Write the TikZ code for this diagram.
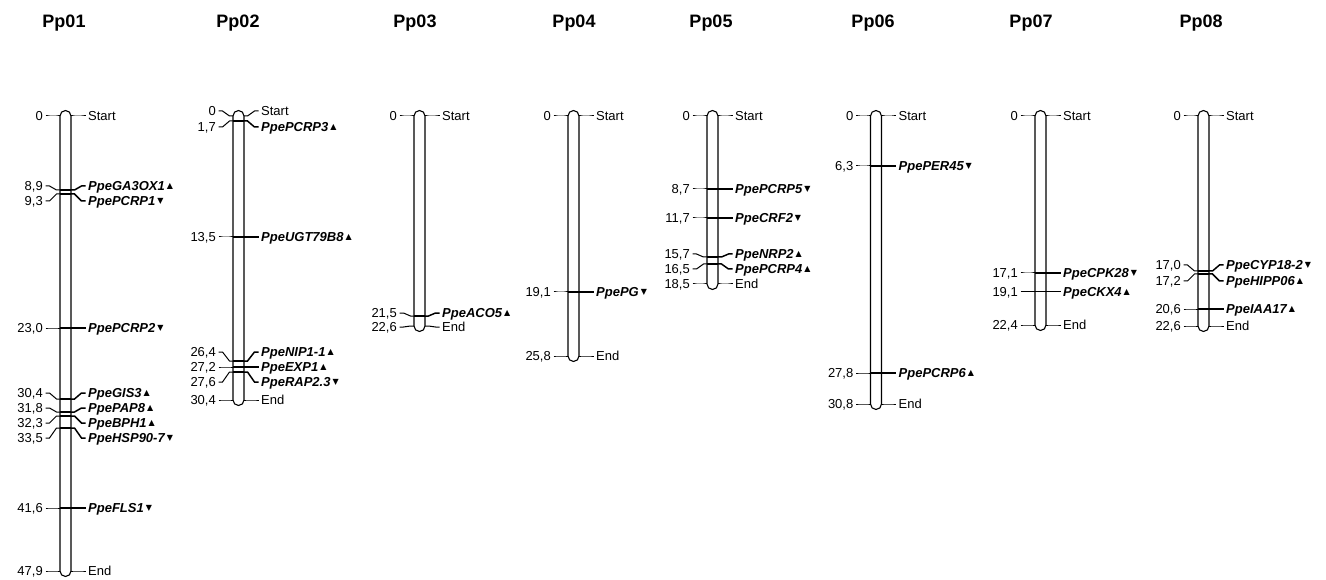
\documentclass[tikz,border=0pt]{standalone}
\usepackage{fontspec}
\setmainfont{Liberation Sans}
\newfontfamily\symf{DejaVu Sans}
\newcommand{\FL}{\fontsize{13}{15}\selectfont}
\newcommand{\FT}{\fontsize{18}{21}\selectfont\bfseries}
\newcommand{\UP}{\kern2pt\raisebox{1.8pt}{\symf\fontsize{8}{8}\selectfont\upshape\mdseries ▲}}
\newcommand{\DN}{\kern2pt\raisebox{1.8pt}{\symf\fontsize{8}{8}\selectfont\upshape\mdseries ▼}}
\newcommand{\chromo}[3]{\draw[chr] (#1-5.5,#2-5.5) rectangle (#1+5.5,#3+5.5);}
\newcommand{\genemark}[6]{%
  \node[num] (#1a) at (#2-22.5,#4) {#5};
  \node[gen] (#1b) at (#2+22.5,#4) {#6};
  \coordinate (#1l) at (#2-5.5,#3);
  \coordinate (#1r) at (#2+5.5,#3);
  \draw[lk] ([xshift=2.5pt]#1a.east) -- ++(4pt,0) -- ([xshift=-3.5pt]#1l) -- (#1l);
  \draw[mk] (#1l) -- (#1r);
  \draw[rk] (#1r) -- ([xshift=3.5pt]#1r) -- ([xshift=-6.5pt]#1b.west) -- ([xshift=-2.5pt]#1b.west);}
\newcommand{\tipmark}[6]{%
  \node[num] (#1a) at (#2-22.5,#4) {#5};
  \node[num,anchor=west] (#1b) at (#2+22.5,#4) {#6};
  \coordinate (#1l) at (#2-5.5,#3);
  \coordinate (#1r) at (#2+5.5,#3);
  \draw[lk] ([xshift=2.5pt]#1a.east) -- ++(4pt,0) -- ([xshift=-3.5pt]#1l) -- (#1l);
  \draw[lk] (#1r) -- ([xshift=3.5pt]#1r) -- ([xshift=-6.5pt]#1b.west) -- ([xshift=-2.5pt]#1b.west);}

\begin{document}
\begin{tikzpicture}[x=1pt,y=-1pt]
\tikzstyle{ttl}=[inner sep=0,font=\FT]
\tikzstyle{num}=[inner sep=0,anchor=east,text height=9.3pt,text depth=0pt,font=\FL]
\tikzstyle{gen}=[inner sep=0,anchor=west,text height=9.3pt,text depth=0pt,font=\FL\bfseries\itshape]
\tikzstyle{chr}=[black,line width=1.1pt,rounded corners=5.5pt]
\tikzstyle{lk}=[black,line width=1pt]
\tikzstyle{mk}=[black,line width=1.8pt]
\tikzstyle{rk}=[black,line width=1.5pt]

\useasboundingbox (0,0) rectangle (1326,580);

\node[ttl] (t1) at (64,23)   {Pp01};
\node[ttl] (t2) at (238,23)  {Pp02};
\node[ttl] (t3) at (415,23)  {Pp03};
\node[ttl] (t4) at (574,23)  {Pp04};
\node[ttl] (t5) at (711,23)  {Pp05};
\node[ttl] (t6) at (873,23)  {Pp06};
\node[ttl] (t7) at (1031,23) {Pp07};
\node[ttl] (t8) at (1201,23) {Pp08};

\chromo{65.5}{116}{571}
\tipmark{a0}{65.5}{116}{116}{0}{Start}
\genemark{a1}{65.5}{190}{186}{8,9}{PpeGA3OX1\UP}
\genemark{a2}{65.5}{194}{201}{9,3}{PpePCRP1\DN}
\genemark{a3}{65.5}{328}{328}{23,0}{PpePCRP2\DN}
\genemark{a4}{65.5}{399}{393}{30,4}{PpeGIS3\UP}
\genemark{a5}{65.5}{412}{408}{31,8}{PpePAP8\UP}
\genemark{a6}{65.5}{416}{423}{32,3}{PpeBPH1\UP}
\genemark{a7}{65.5}{428}{438}{33,5}{PpeHSP90-7\DN}
\genemark{a8}{65.5}{508}{508}{41,6}{PpeFLS1\DN}
\tipmark{a9}{65.5}{571}{571}{47,9}{End}

\chromo{238.5}{116}{400}
\tipmark{b0}{238.5}{116}{111}{0}{Start}
\genemark{b1}{238.5}{121}{127}{1,7}{PpePCRP3\UP}
\genemark{b2}{238.5}{237}{237}{13,5}{PpeUGT79B8\UP}
\genemark{b3}{238.5}{361}{352}{26,4}{PpeNIP1-1\UP}
\genemark{b4}{238.5}{367}{367}{27,2}{PpeEXP1\UP}
\genemark{b5}{238.5}{372}{382}{27,6}{PpeRAP2.3\DN}
\tipmark{b6}{238.5}{400}{400}{30,4}{End}

\chromo{419.5}{116}{326}
\tipmark{c0}{419.5}{116}{116}{0}{Start}
\genemark{c1}{419.5}{316}{313}{21,5}{PpeACO5\UP}
\tipmark{c2}{419.5}{326}{327}{22,6}{End}

\chromo{573.5}{116}{356}
\tipmark{d0}{573.5}{116}{116}{0}{Start}
\genemark{d1}{573.5}{292}{292}{19,1}{PpePG\DN}
\tipmark{d2}{573.5}{356}{356}{25,8}{End}

\chromo{712.5}{116}{284}
\tipmark{e0}{712.5}{116}{116}{0}{Start}
\genemark{e1}{712.5}{189}{189}{8,7}{PpePCRP5\DN}
\genemark{e2}{712.5}{218}{218}{11,7}{PpeCRF2\DN}
\genemark{e3}{712.5}{257}{254}{15,7}{PpeNRP2\UP}
\genemark{e4}{712.5}{264}{269}{16,5}{PpePCRP4\UP}
\tipmark{e5}{712.5}{284}{284}{18,5}{End}

\chromo{876}{116}{404}
\tipmark{f0}{876}{116}{116}{0}{Start}
\genemark{f1}{876}{166}{166}{6,3}{PpePER45\DN}
\genemark{f2}{876}{373}{373}{27,8}{PpePCRP6\UP}
\tipmark{f3}{876}{404}{404}{30,8}{End}

\chromo{1040.5}{116}{325}
\tipmark{g0}{1040.5}{116}{116}{0}{Start}
\genemark{g1}{1040.5}{273}{273}{17,1}{PpeCPK28\DN}
\genemark{g2}{1040.5}{291.5}{291.5}{19,1}{PpeCKX4\UP}
\tipmark{g3}{1040.5}{325}{325}{22,4}{End}

\chromo{1203.5}{116}{326}
\tipmark{h0}{1203.5}{116}{116}{0}{Start}
\genemark{h1}{1203.5}{271}{265}{17,0}{PpeCYP18-2\DN}
\genemark{h2}{1203.5}{274}{281}{17,2}{PpeHIPP06\UP}
\genemark{h3}{1203.5}{309}{309}{20,6}{PpeIAA17\UP}
\tipmark{h4}{1203.5}{326}{326}{22,6}{End}
\end{tikzpicture}
\end{document}
